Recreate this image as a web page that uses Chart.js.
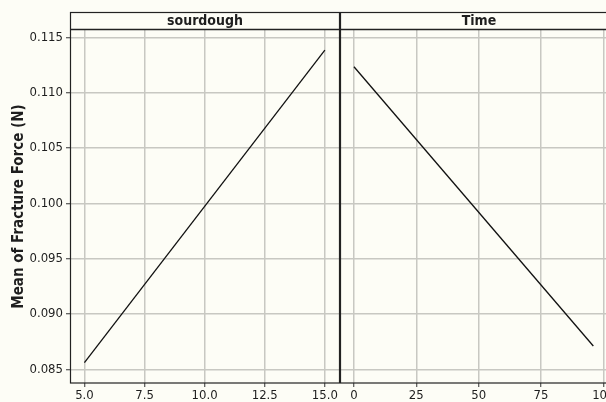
<!DOCTYPE html>
<html lang="en">
<head>
    <meta charset="UTF-8">
    <title>Main Effects Plot - Fracture Force</title>
    <style>
        html, body { margin: 0; padding: 0; background: #fdfdf6; overflow: hidden; }
        #wrap { position: relative; width: 606px; height: 402px; overflow: hidden; }
        canvas { position: absolute; top: 0; }
        #left { left: 0; }
        #right { left: 340px; }
    </style>
</head>
<body>
    <div id="wrap">
        <canvas id="left" width="340" height="402"></canvas>
        <canvas id="right" width="278" height="402"></canvas>
    </div>
    <script src="https://cdn.jsdelivr.net/npm/chart.js"></script>
    <script>
        // values
        const sourdoughLevels = [5, 15];
        const sourdoughMeans = [0.0856, 0.11385];
        const timeLevels = [0, 96];
        const timeMeans = [0.11234, 0.0871];

        const yTicks = [0.085, 0.090, 0.095, 0.100, 0.105, 0.110, 0.115];
        const sourdoughTicks = [5, 7.5, 10, 12.5, 15];
        const timeTicks = [0, 25, 50, 75, 100];

        const FONT = "'Liberation Sans Narrow', 'DejaVu Sans Condensed', 'Open Sans', sans-serif";
        const gridColor = '#c8c8c2';
        const ink = '#1e1e1e';

        // frame + header strip with the panel name
        const panelFrame = {
            id: 'panelFrame',
            afterDraw(chart, args, opts) {
                const { ctx, chartArea: a } = chart;
                ctx.save();
                ctx.strokeStyle = '#222';
                ctx.lineWidth = 1.2;
                ctx.strokeRect(a.left + 0.5, 12.5, a.right - a.left - 1, a.bottom - 12.5);
                ctx.beginPath();
                ctx.moveTo(a.left, a.top - 0.5);
                ctx.lineTo(a.right, a.top - 0.5);
                ctx.lineWidth = 1.5;
                ctx.stroke();
                ctx.fillStyle = ink;
                ctx.font = 'bold 14px ' + FONT;
                ctx.textAlign = 'center';
                ctx.textBaseline = 'middle';
                ctx.fillText(opts.label, (a.left + a.right) / 2, 21);
                ctx.restore();
            }
        };

        function panel(canvas, name, levels, means, xTicks, xMin, xMax, xFmt, withY) {
            return new Chart(canvas, {
                type: 'line',
                data: {
                    datasets: [{
                        data: levels.map((x, i) => ({ x: x, y: means[i] })),
                        borderColor: '#111',
                        borderWidth: 1.3,
                        pointRadius: 0,
                        tension: 0
                    }]
                },
                options: {
                    responsive: false,
                    animation: false,
                    devicePixelRatio: 1,
                    layout: { padding: { top: 30, left: 0, right: 0, bottom: 0 } },
                    plugins: {
                        legend: { display: false },
                        tooltip: { enabled: false },
                        panelFrame: { label: name }
                    },
                    scales: {
                        x: {
                            type: 'linear',
                            min: xMin,
                            max: xMax,
                            afterBuildTicks: s => { s.ticks = xTicks.map(v => ({ value: v })); },
                            afterFit: s => { s.height = 19; },
                            border: { display: false },
                            grid: { color: gridColor, lineWidth: 1.5, tickLength: 4, tickColor: '#333', tickWidth: 1 },
                            ticks: {
                                color: ink,
                                padding: 1,
                                maxRotation: 0,
                                font: { family: FONT, size: 13 },
                                callback: v => xFmt(v)
                            }
                        },
                        y: {
                            min: 0.08376,
                            max: 0.11566,
                            afterBuildTicks: s => { s.ticks = yTicks.map(v => ({ value: v })); },
                            afterFit: s => { s.width = withY ? 70 : 0; },
                            border: { display: false },
                            grid: {
                                color: gridColor, lineWidth: 1.5,
                                drawTicks: withY, tickLength: withY ? 4 : 0, tickColor: '#333', tickWidth: 1
                            },
                            title: {
                                display: withY,
                                text: 'Mean of Fracture Force (N)',
                                color: ink,
                                font: { family: FONT, size: 15, weight: 'bold' },
                                padding: { top: 10, bottom: 0 }
                            },
                            ticks: {
                                display: withY,
                                color: ink,
                                padding: 3,
                                font: { family: FONT, size: 13 },
                                callback: v => v.toFixed(3)
                            }
                        }
                    }
                },
                plugins: [panelFrame]
            });
        }

        panel(document.getElementById('left'), 'sourdough', sourdoughLevels, sourdoughMeans,
            sourdoughTicks, 4.4, 15.63, v => v.toFixed(1), true);
        panel(document.getElementById('right'), 'Time', timeLevels, timeMeans,
            timeTicks, -5.6, 105.9, v => String(v), false);
    </script>
</body>
</html>
